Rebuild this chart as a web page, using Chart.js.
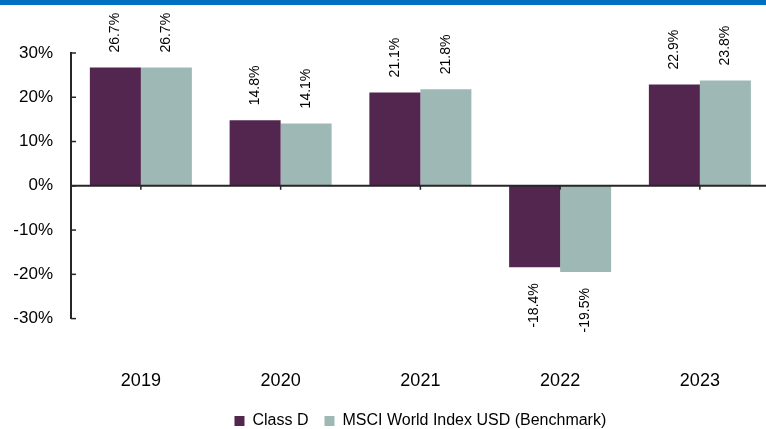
<!DOCTYPE html>
<html>
<head>
<meta charset="utf-8">
<script src="https://cdn.jsdelivr.net/npm/chart.js@4/dist/chart.umd.min.js"></script>
<style>
  html, body { margin: 0; padding: 0; background: #fff; overflow: hidden; }
  #topbar { height: 5px; background: #0070c0; }
  #wrap { width: 766px; height: 424px; overflow: hidden; }
</style>
</head>
<body>
<div id="topbar"></div>
<div id="wrap"><canvas id="perfChart" width="772" height="434"></canvas></div>
<script>
// calendar year performance
const years = ['2019', '2020', '2021', '2022', '2023'];
const classD = [26.7, 14.8, 21.1, -18.4, 22.9];
const benchmark = [26.7, 14.1, 21.8, -19.5, 23.8];
const yTicks = [-30, -20, -10, 0, 10, 20, 30];

const FONT = "'Liberation Sans', Arial, sans-serif";
const AXIS_COLOR = '#262626';

// zero line, axis tick marks and rotated value labels
const extras = {
  id: 'extras',
  afterDatasetsDraw(chart) {
    const { ctx, chartArea, scales } = chart;
    const y0 = scales.y.getPixelForValue(0);
    ctx.save();
    ctx.strokeStyle = AXIS_COLOR;
    ctx.lineWidth = 2;
    ctx.beginPath();
    ctx.moveTo(chartArea.left, y0);
    ctx.lineTo(chartArea.right, y0);
    ctx.stroke();
    ctx.lineWidth = 1.5;
    years.forEach((_, i) => {
      const x = scales.x.getPixelForValue(i);
      ctx.beginPath();
      ctx.moveTo(x, y0);
      ctx.lineTo(x, y0 + 4);
      ctx.stroke();
    });
    yTicks.forEach(v => {
      const y = scales.y.getPixelForValue(v);
      ctx.beginPath();
      ctx.moveTo(chartArea.left, y);
      ctx.lineTo(chartArea.left + 5, y);
      ctx.stroke();
    });

    ctx.fillStyle = '#000';
    ctx.font = '14px ' + FONT;
    ctx.textBaseline = 'middle';
    chart.data.datasets.forEach((ds, di) => {
      chart.getDatasetMeta(di).data.forEach((bar, i) => {
        const v = ds.data[i];
        ctx.save();
        if (v >= 0) {
          ctx.translate(bar.x, bar.y - 15);
          ctx.rotate(-Math.PI / 2);
          ctx.textAlign = 'left';
        } else {
          ctx.translate(bar.x, bar.y + 16);
          ctx.rotate(-Math.PI / 2);
          ctx.textAlign = 'right';
        }
        ctx.fillText(v.toFixed(1) + '%', 0, 0);
        ctx.restore();
      });
    });
    ctx.restore();
  }
};

new Chart(document.getElementById('perfChart'), {
  type: 'bar',
  data: {
    labels: years,
    datasets: [
      { label: 'Class D', data: classD, backgroundColor: '#532650' },
      { label: 'MSCI World Index USD (Benchmark)', data: benchmark, backgroundColor: '#9eb9b5' }
    ]
  },
  options: {
    responsive: false,
    animation: false,
    layout: { padding: { top: 48, right: 1, left: 0, bottom: 0 } },
    datasets: { bar: { categoryPercentage: 0.73, barPercentage: 1.0 } },
    scales: {
      x: {
        grid: { display: false, drawTicks: false },
        border: { display: false },
        ticks: { color: '#000', font: { family: FONT, size: 18 }, padding: 52 },
        afterFit: s => { s.height = 78.4; }
      },
      y: {
        min: -30, max: 30,
        grid: { display: false, drawTicks: false },
        border: { display: true, color: AXIS_COLOR, width: 2 },
        ticks: {
          stepSize: 10, color: '#000', padding: 18,
          font: { family: FONT, size: 17 },
          callback: v => v + '%'
        },
        afterFit: s => { s.width = 71; }
      }
    },
    plugins: {
      legend: {
        position: 'bottom',
        fullSize: false,
        labels: {
          color: '#000', boxWidth: 10, boxHeight: 10, padding: 16,
          font: { family: FONT, size: 16 }
        }
      },
      tooltip: { enabled: false }
    }
  },
  plugins: [extras]
});
</script>
</body>
</html>
